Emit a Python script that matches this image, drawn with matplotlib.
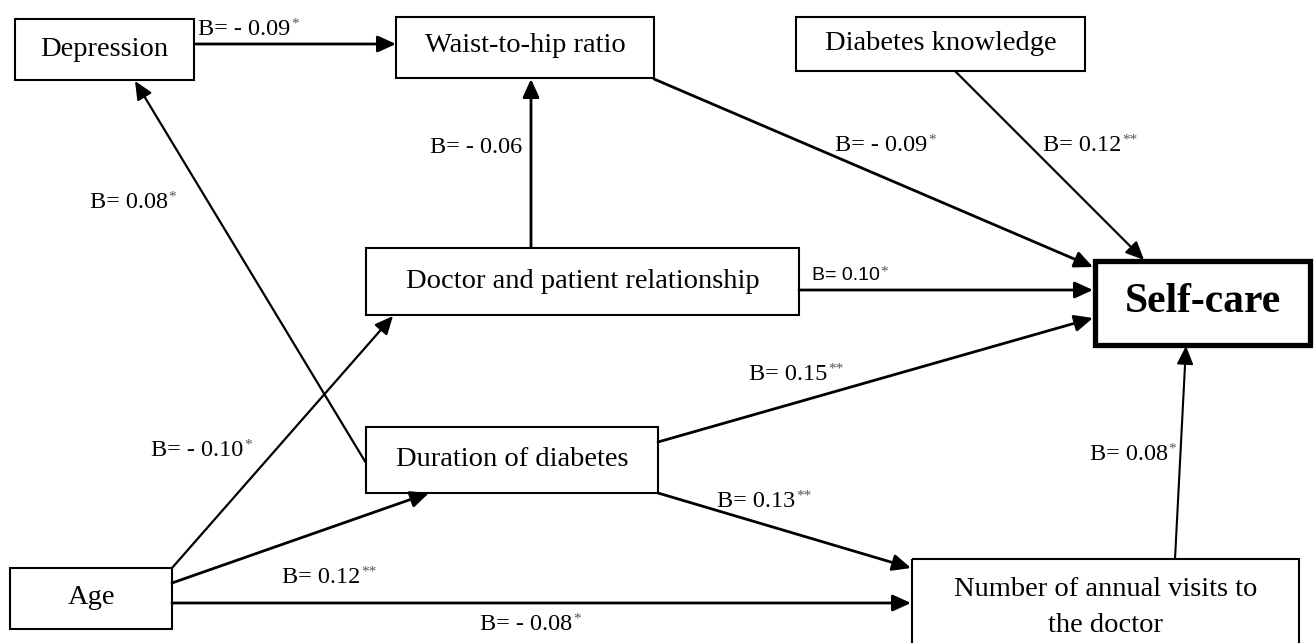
import matplotlib
matplotlib.use("Agg")
import matplotlib.pyplot as plt
from matplotlib.patches import Rectangle

# ---- nodes (layout in pixel units, y downward) ----
NODES = ["Depression", "Waist-to-hip ratio", "Diabetes knowledge",
         "Doctor and patient relationship", "Self-care", "Duration of diabetes",
         "Age", "Number of annual visits to\nthe doctor"]
BOXES = [(15, 19, 194, 80), (396, 17, 654, 78), (796, 17, 1085, 71),
         (366, 248, 799, 315), (1095, 261, 1310, 345), (366, 427, 658, 493),
         (10, 568, 172, 629), (912, 559, 1299, 662)]
TEXT_Y = [[49], [46], [44], [281], [302], [459], [598], [589, 625]]

# ---- paths: start point, end point, coefficient, significance ----
PATH_START = [(196, 44), (531, 247), (366, 463), (654, 79), (955, 71),
              (799, 290), (658, 442), (658, 493), (172, 568), (172, 583),
              (172, 603), (1175, 559)]
PATH_END = [(396, 44), (531, 79), (135, 81), (1093, 267), (1144, 260),
            (1093, 290), (1093, 318), (911, 568), (393, 316), (429, 493),
            (911, 603), (1186, 346)]
PATH_LW = [2.0, 2.0, 1.6, 2.0, 1.6, 2.0, 2.0, 2.0, 1.6, 2.0, 2.0, 1.5]
COEF = ["B= - 0.09", "B= - 0.06", "B= 0.08", "B= - 0.09", "B= 0.12",
        "B= 0.10", "B= 0.15", "B= 0.13", "B= - 0.10", "B= 0.12",
        "B= - 0.08", "B= 0.08"]
SIG = ["*", "", "*", "*", "**", "*", "**", "**", "*", "**", "*", "*"]
LABEL_POS = [(198, 35), (430, 153), (90, 208), (835, 151), (1043, 151),
             (812, 280), (749, 380), (717, 507), (151, 456), (282, 583),
             (480, 630), (1090, 460)]   # left x, baseline y

SERIF = ["Liberation Serif", "DejaVu Serif"]
SANS = ["Liberation Sans", "DejaVu Sans"]

fig = plt.figure(figsize=(13.14, 6.43), dpi=100)
ax = fig.add_axes([0, 0, 1, 1])
ax.set_xlim(0, 1314)
ax.set_ylim(643, 0)
ax.axis("off")

for name, (x0, y0, x1, y1), tys in zip(NODES, BOXES, TEXT_Y):
    main = name == "Self-care"
    ax.add_patch(Rectangle((x0, y0), x1 - x0, y1 - y0, fill=False,
                           ec="black", lw=3.8 if main else 1.5, zorder=2))
    cx = (x0 + x1) / 2
    for line, ty in zip(name.split("\n"), tys):
        if main:
            ax.text(cx, ty, line, ha="center", va="center", fontsize=30,
                    fontweight="bold", family=SERIF)
        else:
            ax.text(cx, ty, line, ha="center", va="center", fontsize=20.5,
                    family=SERIF)

for p0, p1, lw in zip(PATH_START, PATH_END, PATH_LW):
    ax.annotate("", xy=p1, xytext=p0,
                arrowprops=dict(arrowstyle="-|>,head_length=0.55,head_width=0.25",
                                mutation_scale=20, lw=lw, color="black",
                                shrinkA=0, shrinkB=0), zorder=3)

for txt, sig, (lx, ly) in zip(COEF, SIG, LABEL_POS):
    sans = txt == "B= 0.10"
    t = ax.text(lx, ly, txt, ha="left", va="baseline",
                fontsize=14 if sans else 17.5, family=SANS if sans else SERIF)
    if sig:
        ax.annotate(sig, xy=(1, 1), xycoords=t, xytext=(0.5, 1),
                    textcoords="offset points", ha="left", va="top",
                    fontsize=11, color="#555555", family=SERIF)

fig.savefig("out.png", dpi=100)
